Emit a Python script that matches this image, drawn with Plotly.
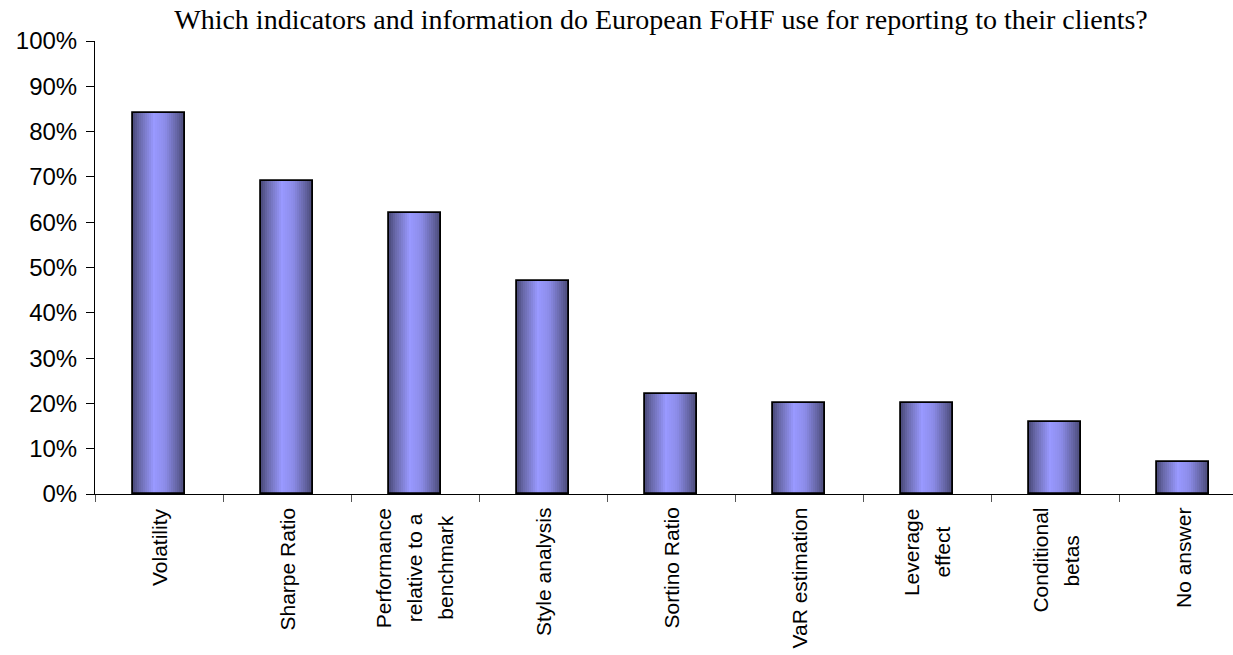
import plotly.graph_objects as go

# Survey results: share of European FoHF using each indicator in client reporting
categories = [
    "Volatility",
    "Sharpe Ratio",
    "Performance<br>relative to a<br>benchmark",
    "Style analysis",
    "Sortino Ratio",
    "VaR estimation",
    "Leverage<br>effect",
    "Conditional<br>betas",
    "No answer",
]
shares = [0.84, 0.69, 0.62, 0.47, 0.22, 0.20, 0.20, 0.16, 0.07]

title_text = "Which indicators and information do European FoHF use for reporting to their clients?"

# Horizontal shading across each column (dark edges, light centre-left)
stops = [
    (0.00, (74, 74, 122)),
    (0.12, (104, 104, 168)),
    (0.40, (153, 153, 255)),
    (0.62, (140, 140, 232)),
    (0.86, (98, 98, 160)),
    (1.00, (70, 70, 112)),
]


def shade(t):
    for (p0, c0), (p1, c1) in zip(stops[:-1], stops[1:]):
        if p0 <= t <= p1:
            f = (t - p0) / (p1 - p0)
            r, g, b = (round(a + (bb - a) * f) for a, bb in zip(c0, c1))
            return f"rgb({r},{g},{b})"
    return "rgb(70,70,112)"


bar_w = 0.41
n_strips = 26
step = bar_w / n_strips
x_idx = list(range(len(categories)))

fig = go.Figure()
for i in range(n_strips):
    w = step * (2 if i < n_strips - 1 else 1)
    fig.add_trace(go.Bar(
        x=x_idx, y=shares,
        width=w, offset=-bar_w / 2 + i * step,
        marker=dict(color=shade((i + 0.5) / n_strips), line=dict(width=0)),
        hoverinfo="skip", showlegend=False,
    ))

# Column outlines
fig.add_trace(go.Bar(
    x=x_idx, y=shares, width=bar_w,
    marker=dict(color="rgba(0,0,0,0)", line=dict(color="black", width=1.8)),
    hovertemplate="%{y:.0%}<extra></extra>", showlegend=False,
))

# Rotated, centred category labels under the axis.  Each line of a wrapped
# label is drawn from the full block (other lines transparent) so the block
# keeps its centring, then nudged sideways to open up the line spacing.
label_font = dict(family="Liberation Sans, Arial", size=21, color="black")
extra_gap = 3.8
for i, lab in enumerate(categories):
    lines = lab.split("<br>")
    k = len(lines)
    for j in range(k):
        parts = [
            ln if m == j else f'<span style="color:rgba(0,0,0,0)">{ln}</span>'
            for m, ln in enumerate(lines)
        ]
        fig.add_annotation(
            x=i, xref="x", y=0, yref="y",
            text="<br>".join(parts), textangle=-90, showarrow=False,
            xanchor="center", yanchor="top", yshift=-12, align="center",
            xshift=(j - (k - 1) / 2) * extra_gap,
            font=label_font,
        )

cat_px = 128.0
plot_w = 1233 - 95
fig.update_layout(
    width=1233, height=655,
    margin=dict(l=95, r=0, t=41, b=161),
    paper_bgcolor="white", plot_bgcolor="white",
    barmode="overlay", bargap=0,
    title=dict(
        text=title_text, x=661 / 1233, xanchor="center", y=0.97, yanchor="middle",
        font=dict(family="Liberation Serif, Times New Roman", size=28, color="black"),
    ),
    xaxis=dict(
        range=[-0.5, -0.5 + plot_w / cat_px],
        tickmode="array", tickvals=[i - 0.5 for i in range(len(categories) + 1)],
        showticklabels=False,
        ticks="outside", ticklen=7, tickcolor="#555", tickwidth=1,
        showline=True, linecolor="black", linewidth=1,
        showgrid=False, zeroline=False,
    ),
    yaxis=dict(
        range=[0, 1], dtick=0.1, tickformat=".0%",
        ticks="outside", ticklen=8, tickcolor="black", tickwidth=1,
        ticklabelstandoff=4,
        showline=True, linecolor="black", linewidth=1,
        showgrid=False, zeroline=False,
        tickfont=dict(family="Liberation Sans, Arial", size=24, color="black"),
    ),
)

fig.write_html("out.html")
